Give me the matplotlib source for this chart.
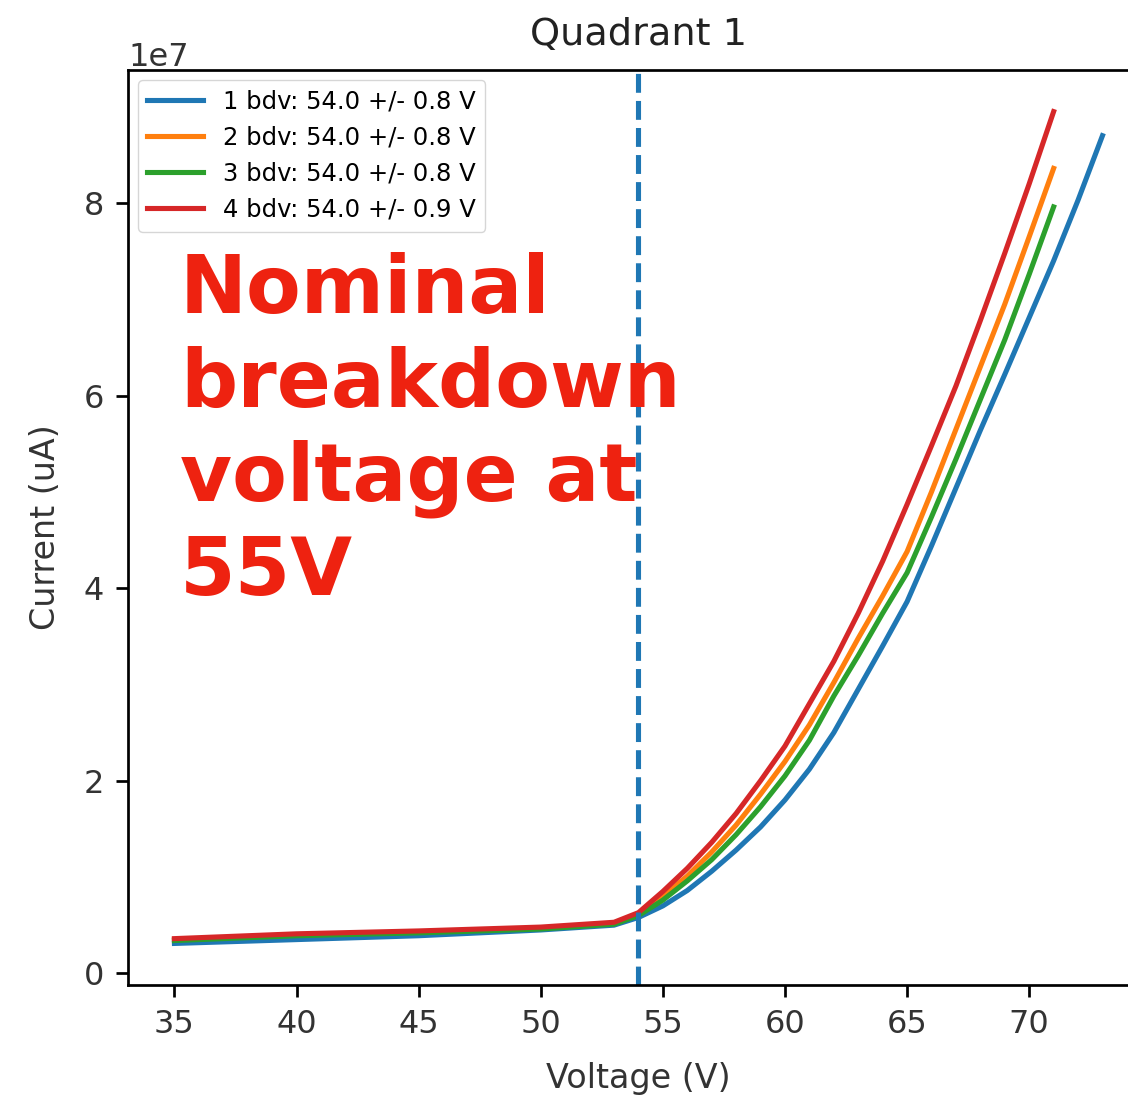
import matplotlib
matplotlib.use('Agg')
import matplotlib.pyplot as plt

# 读图得到的数据 (电压 V, 电流 1e7 uA)
volt_short = [35, 40, 45, 50, 53, 54, 55, 56, 57, 58, 59, 60, 61, 62, 63, 64, 65,
              66, 67, 68, 69, 70, 71]
volt_long = volt_short + [72, 73]

cur_1 = [0.31, 0.35, 0.39, 0.45, 0.50, 0.58, 0.70, 0.86, 1.06, 1.28, 1.52, 1.80, 2.12,
         2.50, 2.95, 3.40, 3.86, 4.44, 5.04, 5.64, 6.22, 6.81, 7.40, 8.03, 8.70]
cur_2 = [0.35, 0.40, 0.43, 0.47, 0.52, 0.61, 0.80, 1.01, 1.26, 1.54, 1.86, 2.20, 2.58,
         3.02, 3.48, 3.92, 4.38, 5.00, 5.65, 6.30, 6.95, 7.65, 8.36]
cur_3 = [0.34, 0.39, 0.42, 0.46, 0.51, 0.60, 0.76, 0.96, 1.18, 1.44, 1.73, 2.05, 2.42,
         2.88, 3.30, 3.74, 4.16, 4.74, 5.34, 5.96, 6.58, 7.26, 7.96]
cur_4 = [0.36, 0.41, 0.44, 0.48, 0.53, 0.63, 0.85, 1.09, 1.36, 1.66, 2.00, 2.36, 2.80,
         3.24, 3.74, 4.28, 4.87, 5.48, 6.10, 6.78, 7.48, 8.20, 8.95]

labels = ['1 bdv: 54.0 +/- 0.8 V', '2 bdv: 54.0 +/- 0.8 V',
          '3 bdv: 54.0 +/- 0.8 V', '4 bdv: 54.0 +/- 0.9 V']
bdv_line = 54

s = 2.45  # 放大系数
plt.rcParams['font.family'] = ['DejaVu Sans']

fig = plt.figure(figsize=(11.28, 10.99), dpi=100)
ax = fig.add_axes([0.1135, 0.1037, 0.905, 0.8326])

lw = 1.5 * s
ax.plot(volt_long, [v * 1e7 for v in cur_1], color='C0', lw=lw, label=labels[0])
ax.plot(volt_short, [v * 1e7 for v in cur_2], color='C1', lw=lw, label=labels[1])
ax.plot(volt_short, [v * 1e7 for v in cur_3], color='C2', lw=lw, label=labels[2])
ax.plot(volt_short, [v * 1e7 for v in cur_4], color='C3', lw=lw, label=labels[3])
ax.axvline(bdv_line, color='C0', linestyle='--', lw=lw)

ax.set_title('Quadrant 1', fontsize=27.5, pad=6 * s + 3, color='#222222')
ax.set_xlabel('Voltage (V)', fontsize=24, color='#333333', labelpad=4 * s + 6)
ax.set_ylabel('Current (uA)', fontsize=24, color='#333333', labelpad=4 * s + 6)
ax.tick_params(labelsize=23, length=3.5 * s, width=0.8 * s, pad=3.5 * s,
               labelcolor='#333333')
ax.yaxis.get_offset_text().set_fontsize(23)
ax.yaxis.get_offset_text().set_color('#333333')
for sp in ax.spines.values():
    sp.set_linewidth(0.8 * s)

ax.legend(loc='upper left', fontsize=17.5, handlelength=2.3, frameon=True,
          borderaxespad=0.4)

fig.text(180 / 1128, 1 - 252 / 1099, 'Nominal\nbreakdown\nvoltage at\n55V',
         fontsize=57.5, fontweight='bold', color='#ee2210', va='top', ha='left',
         linespacing=1.26)

plt.savefig('out.png', dpi=100)
